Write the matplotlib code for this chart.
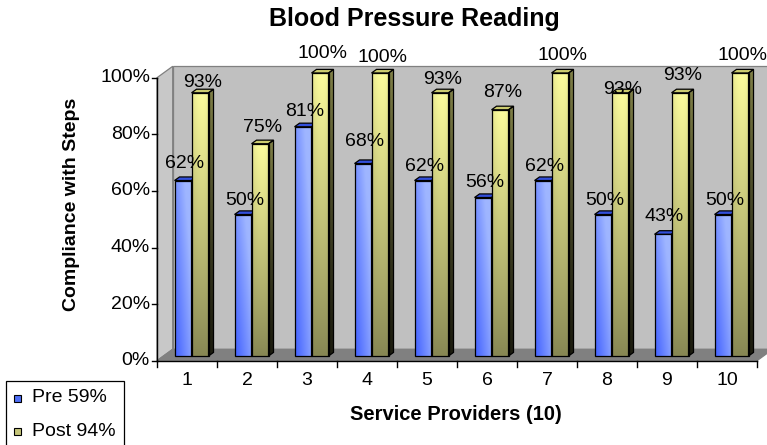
import matplotlib
matplotlib.use('Agg')
import matplotlib.pyplot as plt
from matplotlib.patches import Polygon, Rectangle
import numpy as np

plt.rcParams['font.family'] = ['Liberation Sans', 'DejaVu Sans']

# service providers and compliance (%) before / after
providers = ['1', '2', '3', '4', '5', '6', '7', '8', '9', '10']
pre = [62, 50, 81, 68, 62, 56, 62, 50, 43, 50]
post = [93, 75, 100, 100, 93, 87, 100, 93, 93, 100]
series_names = ['Pre 59%', 'Post 94%']
yticks = [0, 20, 40, 60, 80, 100]

# label nudges (pixels): height above the bar top
pre_lab_dy = [17, 14, 15, 22, 14, 15, 14, 14, 18, 14]
post_lab_dy = [10, 16, 19, 16, 13, 17, 18, 3, 17, 18]

FS = 14  # text size of ticks, values and legend

W, H = 767, 445
fig = plt.figure(figsize=(W / 100, H / 100), dpi=100)
ax = fig.add_axes([0, 0, 1, 1])
ax.axis('off')

# pixel scale of the plot: 60 px per category, 2.83 px per percent
XPX, YPX = 60.0, 2.83
X0PX, Y0PX = 157.0, 360.7          # front corner of the floor
fdx, fdy = 15.7 / XPX, 11.4 / YPX  # floor depth
bdx, bdy = 5.0 / XPX, 3.6 / YPX    # bar depth
bw = 17.0 / XPX                    # bar width
base = 4.7 / YPX                   # bars stand a little back on the floor


def grad_face(verts, colfun, z, edge=True):
    poly = Polygon(verts, closed=True, facecolor='none',
                   edgecolor='black' if edge else 'none', lw=0.9, zorder=z + 0.1)
    ax.add_patch(poly)
    xs = [v[0] for v in verts]
    ys = [v[1] for v in verts]
    u, t = np.meshgrid(np.linspace(0, 1, 24), np.linspace(0, 1, 60))
    img = colfun(u, t)
    im = ax.imshow(img, extent=[min(xs), max(xs), min(ys), max(ys)], origin='lower',
                   aspect='auto', interpolation='bilinear', zorder=z)
    im.set_clip_path(poly)


def mix(c1, c2, w):
    c1 = np.array(c1)
    c2 = np.array(c2)
    w = np.clip(w, 0, 1)[..., None]
    return c1 * (1 - w) + c2 * w


def blue_front(u, t):
    return mix((0.17, 0.30, 1.0), (0.62, 0.71, 1.0), 0.2 + 0.6 * u + 0.45 * t)


def yellow_front(u, t):
    h = 1 - 0.22 * (1 - u) ** 3 - 0.15 * u ** 5
    return mix((0.53, 0.53, 0.33), (1.0, 1.0, 0.62), (t ** 0.9) * h)


def yellow_side(u, t):
    return mix((0.11, 0.11, 0.06), (0.50, 0.50, 0.28), t ** 1.3)


def blue_side(u, t):
    return mix((0.05, 0.10, 0.45), (0.25, 0.35, 0.85), t)


def flat(c):
    return lambda u, t: mix(c, c, t)


def draw_bar(x0, val, front, side, top, z):
    y0, y1 = base, base + val
    x1 = x0 + bw
    grad_face([(x0, y0), (x1, y0), (x1, y1), (x0, y1)], front, z)
    grad_face([(x1, y0), (x1 + bdx, y0 + bdy), (x1 + bdx, y1 + bdy), (x1, y1)], side, z)
    grad_face([(x0, y1), (x1, y1), (x1 + bdx, y1 + bdy), (x0 + bdx, y1 + bdy)], top, z)


# side wall, back wall and floor
ax.add_patch(Polygon([(0.5, 0), (0.5 + fdx, fdy), (0.5 + fdx, 100 + fdy), (0.5, 100)],
                     facecolor='#c8c8c8', edgecolor='#808080', lw=0.9, zorder=1))
ax.add_patch(Polygon([(0.5 + fdx, fdy), (10.5 + fdx, fdy), (10.5 + fdx, 100 + fdy),
                      (0.5 + fdx, 100 + fdy)],
                     facecolor='#c0c0c0', edgecolor='#808080', lw=0.9, zorder=1))
ax.add_patch(Polygon([(0.5, 0), (10.5, 0), (10.5 + fdx, fdy), (0.5 + fdx, fdy)],
                     facecolor='#808080', edgecolor='#808080', lw=0.9, zorder=1.5))

# bars
n = len(providers)
for i in range(n):
    k = i + 1
    xb = k - 0.208
    draw_bar(xb, pre[i], blue_front, blue_side, flat((0.20, 0.31, 0.86)), 3 + 2 * i)
    draw_bar(xb + bw, post[i], yellow_front, yellow_side, flat((0.80, 0.80, 0.44)), 4 + 2 * i)

# value labels
for i in range(n):
    k = i + 1
    xb = k - 0.208
    ax.annotate('%d%%' % pre[i], (xb + bw / 2, base + pre[i]), xytext=(1.5, pre_lab_dy[i]),
                textcoords='offset pixels', ha='center', va='center', fontsize=FS, zorder=40)
    ax.annotate('%d%%' % post[i], (xb + 1.5 * bw, base + post[i]), xytext=(2.5, post_lab_dy[i]),
                textcoords='offset pixels', ha='center', va='center', fontsize=FS, zorder=40)

# front axes, ticks and tick labels
ax.plot([0.5, 0.5], [0, 100], color='black', lw=1.0, zorder=30)
ax.plot([0.5, 10.5], [0, 0], color='black', lw=1.0, zorder=30)
for yt in yticks:
    ax.plot([0.5 - 5 / XPX, 0.5], [yt, yt], color='black', lw=1.0, zorder=30)
    ax.text(0.5 - 7 / XPX, yt, '%d%%' % yt, ha='right', va='center', fontsize=FS)
for b in np.arange(0.5, n + 1, 1.0):
    ax.plot([b, b], [0, -6 / YPX], color='black', lw=1.0, zorder=30)
for i, p in enumerate(providers):
    ax.text(i + 1, -20 / YPX, p, ha='center', va='center', fontsize=FS)

ax.set_xlim(0.5 - X0PX / XPX, 0.5 + (W - X0PX) / XPX)
ax.set_ylim((Y0PX - H) / YPX, Y0PX / YPX)

# titles
fig.text(414 / W, 1 - 19 / H, 'Blood Pressure Reading', ha='center', va='center',
         fontsize=18, fontweight='bold')
fig.text(456 / W, 1 - 415 / H, 'Service Providers (10)', ha='center', va='center',
         fontsize=14.5, fontweight='bold')
fig.text(72 / W, 1 - 204 / H, 'Compliance with Steps', ha='center', va='center',
         rotation=90, fontsize=14, fontweight='bold')

# legend box in the lower left corner
fig.patches.append(Rectangle((6 / W, -0.05), 118 / W, (H - 381) / H + 0.05,
                             transform=fig.transFigure, facecolor='white',
                             edgecolor='black', lw=0.9))
for j, (name, col) in enumerate(zip(series_names, ['#4f6ff6', '#c6c67a'])):
    yc = 1 - (398 + 33 * j) / H
    fig.patches.append(Rectangle((14 / W, yc - 3.5 / H), 7 / W, 7 / H,
                                 transform=fig.transFigure, facecolor=col,
                                 edgecolor='black', lw=0.8))
    fig.text(32 / W, yc, name, ha='left', va='center', fontsize=FS)

fig.savefig('out.png', dpi=100)
